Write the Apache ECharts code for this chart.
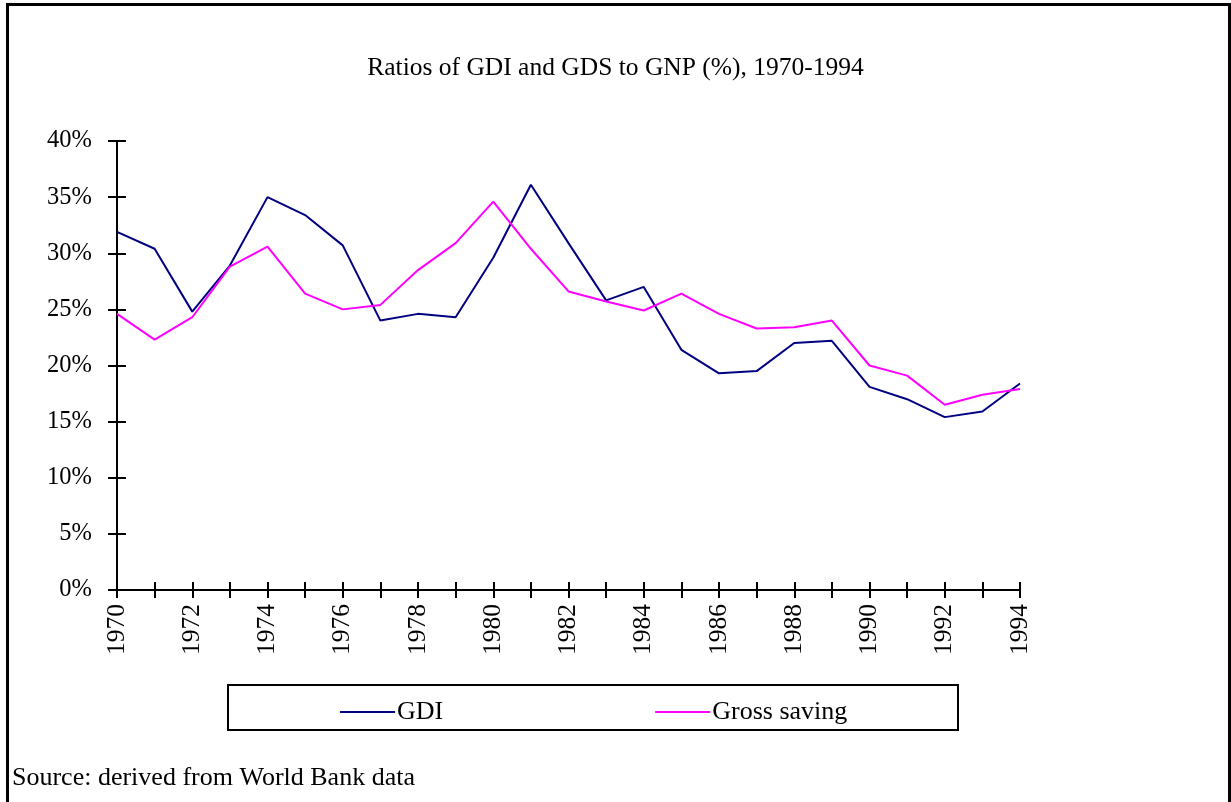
<!DOCTYPE html>
<html>
<head>
<meta charset="utf-8">
<script src="https://cdn.jsdelivr.net/npm/echarts@6/dist/echarts.min.js"></script>
<style>
  html, body { margin: 0; padding: 0; background: #fff; }
  #chart { width: 1231px; height: 802px; }
</style>
</head>
<body>
<div id="chart"></div>
<script>
const years = ['1970', '1971', '1972', '1973', '1974', '1975', '1976', '1977', '1978', '1979',
  '1980', '1981', '1982', '1983', '1984', '1985', '1986', '1987', '1988', '1989',
  '1990', '1991', '1992', '1993', '1994']
const gdi = [31.9, 30.4, 24.8, 28.9, 35.0, 33.4, 30.7, 24.0, 24.6, 24.3,
  29.6, 36.1, 30.9, 25.8, 27.0, 21.4, 19.3, 19.5, 22.0, 22.2,
  18.1, 17.0, 15.4, 15.9, 18.4]
const grossSaving = [24.6, 22.3, 24.3, 28.8, 30.6, 26.4, 25.0, 25.4, 28.5, 30.9,
  34.6, 30.4, 26.6, 25.7, 24.9, 26.4, 24.6, 23.3, 23.4, 24.0,
  20.0, 19.1, 16.5, 17.4, 17.9]

const font = '"Liberation Serif", "Times New Roman", serif'
const chart = echarts.init(document.getElementById('chart'))

// axes come in pairs: one draws ticks outside the line, the other inside, so they cross
const xBase = {
  type: 'category',
  data: years,
  boundaryGap: false
}
const yBase = {
  type: 'value',
  min: 0,
  max: 40,
  interval: 5,
  splitLine: { show: false }
}

chart.setOption({
  animation: false,
  textStyle: { fontFamily: font },
  title: {
    text: 'Ratios of GDI and GDS to GNP (%), 1970-1994',
    left: 'center',
    top: 50,
    textStyle: { fontFamily: font, fontSize: 25.5, fontWeight: 'normal', color: '#000' }
  },
  grid: { left: 117, right: 211, top: 141, bottom: 212 },
  xAxis: [
    Object.assign({}, xBase, {
      axisLine: { lineStyle: { color: '#000', width: 2 } },
      axisTick: { show: true, inside: false, length: 8, interval: 0, lineStyle: { color: '#000', width: 2 } },
      axisLabel: {
        interval: 1,
        rotate: 90,
        margin: 14,
        fontFamily: font,
        fontSize: 25.5,
        color: '#000'
      }
    }),
    Object.assign({}, xBase, {
      position: 'bottom',
      axisLine: { show: false },
      axisTick: { show: true, inside: true, length: 8, interval: 0, lineStyle: { color: '#000', width: 2 } },
      axisLabel: { show: false }
    })
  ],
  yAxis: [
    Object.assign({}, yBase, {
      axisLine: { show: true, lineStyle: { color: '#000', width: 2 } },
      axisTick: { show: true, inside: false, length: 9, lineStyle: { color: '#000', width: 2 } },
      axisLabel: {
        formatter: '{value}%',
        margin: 25,
        fontFamily: font,
        fontSize: 24.5,
        color: '#000'
      }
    }),
    Object.assign({}, yBase, {
      position: 'left',
      axisLine: { show: false },
      axisTick: { show: true, inside: true, length: 9, lineStyle: { color: '#000', width: 2 } },
      axisLabel: { show: false }
    })
  ],
  legend: {
    left: 335,
    top: 694,
    itemWidth: 55,
    itemHeight: 2,
    itemGap: 212,
    icon: 'rect',
    textStyle: { fontFamily: font, fontSize: 26, color: '#000', padding: [0, 0, 0, -3] },
    data: ['GDI', 'Gross saving']
  },
  graphic: [
    {
      type: 'rect',
      shape: { x: 228, y: 685, width: 730, height: 45 },
      style: { fill: 'none', stroke: '#000', lineWidth: 2 },
      z: 0
    },
    {
      type: 'rect',
      shape: { x: 7.5, y: 4.5, width: 1222, height: 900 },
      style: { fill: 'none', stroke: '#000', lineWidth: 3 },
      silent: true
    },
    {
      type: 'text',
      left: 12,
      top: 765,
      style: { text: 'Source: derived from World Bank data', font: '26px ' + font, fill: '#000' }
    }
  ],
  series: [
    {
      name: 'GDI',
      type: 'line',
      data: gdi,
      symbol: 'none',
      lineStyle: { color: '#000080', width: 2 },
      itemStyle: { color: '#000080' }
    },
    {
      name: 'Gross saving',
      type: 'line',
      data: grossSaving,
      symbol: 'none',
      lineStyle: { color: '#ff00ff', width: 2 },
      itemStyle: { color: '#ff00ff' }
    }
  ]
})
</script>
</body>
</html>
